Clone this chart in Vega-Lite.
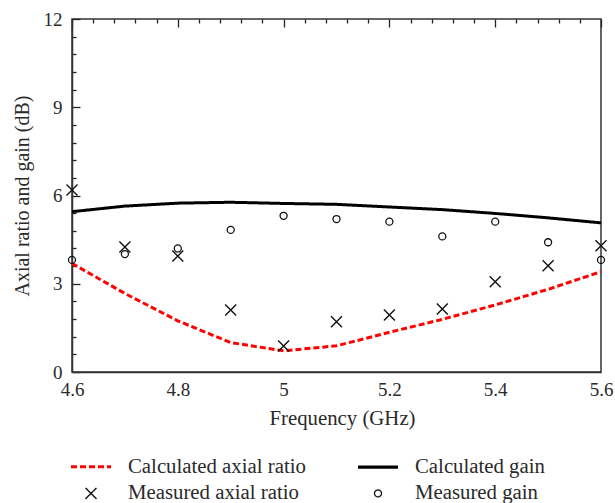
{
  "$schema": "https://vega.github.io/schema/vega-lite/v6.json",
  "width": 529,
  "height": 353,
  "autosize": "none",
  "padding": {"left": 72, "top": 19, "right": 14, "bottom": 131},
  "background": "white",
  "config": {
    "font": "Liberation Serif",
    "view": {"stroke": "#333333", "strokeWidth": 1.5},
    "axis": {
      "domainColor": "#333333",
      "domainWidth": 1.5,
      "ticks": false,
      "gridColor": "#222222",
      "gridWidth": 1.3,
      "gridOpacity": 1,
      "labelColor": "#2a2a2a",
      "titleColor": "#2a2a2a",
      "labelFont": "Liberation Serif",
      "titleFont": "Liberation Serif",
      "labelFontSize": 19,
      "titleFontSize": 20.8,
      "titleFontWeight": "normal"
    },
    "legend": {
      "orient": "none",
      "legendX": -3,
      "legendY": 426,
      "columns": 2,
      "direction": "vertical",
      "columnPadding": 45,
      "rowPadding": 5,
      "labelFont": "Liberation Serif",
      "labelFontSize": 20.8,
      "labelColor": "#2a2a2a",
      "labelOffset": 15,
      "symbolOpacity": 1,
      "labelLimit": 400
    }
  },
  "resolve": {"axis": {"x": "independent", "y": "independent"}},
  "datasets": {
    "calculated": [
      {"series": "Calculated axial ratio", "freq": 4.6, "value": 3.69},
      {"series": "Calculated axial ratio", "freq": 4.7, "value": 2.67},
      {"series": "Calculated axial ratio", "freq": 4.8, "value": 1.74},
      {"series": "Calculated axial ratio", "freq": 4.9, "value": 1.0},
      {"series": "Calculated axial ratio", "freq": 5.0, "value": 0.72},
      {"series": "Calculated axial ratio", "freq": 5.1, "value": 0.89},
      {"series": "Calculated axial ratio", "freq": 5.2, "value": 1.35},
      {"series": "Calculated axial ratio", "freq": 5.3, "value": 1.79},
      {"series": "Calculated axial ratio", "freq": 5.4, "value": 2.28},
      {"series": "Calculated axial ratio", "freq": 5.5, "value": 2.81},
      {"series": "Calculated axial ratio", "freq": 5.6, "value": 3.41},
      {"series": "Calculated gain", "freq": 4.6, "value": 5.45},
      {"series": "Calculated gain", "freq": 4.7, "value": 5.64},
      {"series": "Calculated gain", "freq": 4.8, "value": 5.74},
      {"series": "Calculated gain", "freq": 4.9, "value": 5.77},
      {"series": "Calculated gain", "freq": 5.0, "value": 5.73},
      {"series": "Calculated gain", "freq": 5.1, "value": 5.70},
      {"series": "Calculated gain", "freq": 5.2, "value": 5.61},
      {"series": "Calculated gain", "freq": 5.3, "value": 5.52},
      {"series": "Calculated gain", "freq": 5.4, "value": 5.39},
      {"series": "Calculated gain", "freq": 5.5, "value": 5.24},
      {"series": "Calculated gain", "freq": 5.6, "value": 5.07}
    ],
    "measured": [
      {"series": "Measured axial ratio", "freq": 4.6, "value": 6.19},
      {"series": "Measured axial ratio", "freq": 4.7, "value": 4.25},
      {"series": "Measured axial ratio", "freq": 4.8, "value": 3.94},
      {"series": "Measured axial ratio", "freq": 4.9, "value": 2.11},
      {"series": "Measured axial ratio", "freq": 5.0, "value": 0.88},
      {"series": "Measured axial ratio", "freq": 5.1, "value": 1.71},
      {"series": "Measured axial ratio", "freq": 5.2, "value": 1.94},
      {"series": "Measured axial ratio", "freq": 5.3, "value": 2.14},
      {"series": "Measured axial ratio", "freq": 5.4, "value": 3.07},
      {"series": "Measured axial ratio", "freq": 5.5, "value": 3.61},
      {"series": "Measured axial ratio", "freq": 5.6, "value": 4.29},
      {"series": "Measured gain", "freq": 4.6, "value": 3.81},
      {"series": "Measured gain", "freq": 4.7, "value": 4.01},
      {"series": "Measured gain", "freq": 4.8, "value": 4.2},
      {"series": "Measured gain", "freq": 4.9, "value": 4.83},
      {"series": "Measured gain", "freq": 5.0, "value": 5.31},
      {"series": "Measured gain", "freq": 5.1, "value": 5.2},
      {"series": "Measured gain", "freq": 5.2, "value": 5.11},
      {"series": "Measured gain", "freq": 5.3, "value": 4.61},
      {"series": "Measured gain", "freq": 5.4, "value": 5.11},
      {"series": "Measured gain", "freq": 5.5, "value": 4.41},
      {"series": "Measured gain", "freq": 5.6, "value": 3.81}
    ]
  },
  "layer": [
    {
      "data": {"name": "calculated"},
      "mark": {"type": "line", "strokeWidth": 3, "clip": true},
      "encoding": {
        "x": {
          "field": "freq", "type": "quantitative",
          "scale": {"domain": [4.6, 5.6], "nice": false, "zero": false},
          "axis": {
            "title": "Frequency (GHz)",
            "orient": "bottom",
            "values": [4.6, 4.8, 5.0, 5.2, 5.4, 5.6],
            "format": "~g",
            "grid": true,
            "gridDash": [8, 2000],
            "labelPadding": 8,
            "labelFlush": false,
            "titlePadding": 9,
            "titleX": 270,
            "titleAnchor": "start",
            "titleAlign": "center"
          }
        },
        "y": {
          "field": "value", "type": "quantitative",
          "scale": {"domain": [0, 12], "nice": false},
          "axis": {
            "title": "Axial ratio and gain (dB)",
            "titleFontSize": 20,
            "orient": "left",
            "values": [0, 3, 6, 9, 12],
            "grid": true,
            "gridDash": [8, 2000],
            "labelPadding": 10,
            "labelFlush": false,
            "titlePadding": 11
          }
        },
        "color": {
          "field": "series", "type": "nominal",
          "scale": {
            "domain": ["Calculated axial ratio", "Measured axial ratio", "Calculated gain", "Measured gain"],
            "range": ["#ff0000", "#111111", "#000000", "#111111"]
          },
          "legend": {"title": null}
        },
        "strokeDash": {
          "field": "series", "type": "nominal",
          "scale": {
            "domain": ["Calculated axial ratio", "Measured axial ratio", "Calculated gain", "Measured gain"],
            "range": [[6, 3], [1, 0], [1, 0], [1, 0]]
          },
          "legend": {"title": null}
        }
      }
    },
    {
      "data": {"name": "measured"},
      "mark": {"type": "point", "filled": false, "opacity": 1},
      "encoding": {
        "x": {
          "field": "freq", "type": "quantitative",
          "axis": {
            "title": null,
            "orient": "bottom",
            "labels": false,
            "domain": false,
            "grid": true,
            "gridDash": [4, 2000],
            "values": [4.64, 4.68, 4.72, 4.76, 4.84, 4.88, 4.92, 4.96, 5.04, 5.08, 5.12, 5.16, 5.24, 5.28, 5.32, 5.36, 5.44, 5.48, 5.52, 5.56]
          }
        },
        "y": {
          "field": "value", "type": "quantitative",
          "axis": {
            "title": null,
            "orient": "left",
            "labels": false,
            "domain": false,
            "grid": true,
            "gridDash": [4, 2000],
            "values": [0.6, 1.2, 1.8, 2.4, 3.6, 4.2, 4.8, 5.4, 6.6, 7.2, 7.8, 8.4, 9.6, 10.2, 10.8, 11.4]
          }
        },
        "color": {"field": "series", "type": "nominal", "legend": {"title": null}},
        "shape": {
          "field": "series", "type": "nominal",
          "scale": {
            "domain": ["Calculated axial ratio", "Measured axial ratio", "Calculated gain", "Measured gain"],
            "range": ["M-1,0H1", "M-1,-1L1,1M-1,1L1,-1", "M-1,0H1", "circle"]
          },
          "legend": {"title": null}
        },
        "size": {
          "field": "series", "type": "nominal",
          "scale": {
            "type": "ordinal",
            "domain": ["Calculated axial ratio", "Measured axial ratio", "Calculated gain", "Measured gain"],
            "range": [1600, 121, 1600, 49]
          },
          "legend": {"title": null}
        },
        "strokeWidth": {
          "field": "series", "type": "nominal",
          "scale": {
            "type": "ordinal",
            "domain": ["Calculated axial ratio", "Measured axial ratio", "Calculated gain", "Measured gain"],
            "range": [3, 1.4, 3.2, 1.3]
          },
          "legend": {"title": null}
        }
      }
    }
  ]
}
